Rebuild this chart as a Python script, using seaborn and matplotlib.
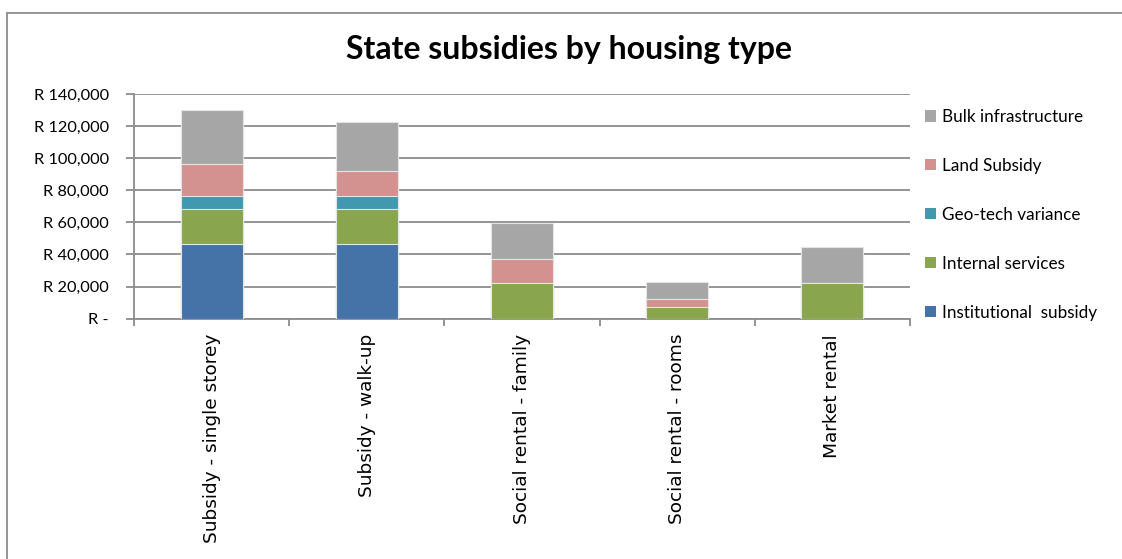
import numpy as np
import pandas as pd
import matplotlib
matplotlib.use("Agg")
import matplotlib.pyplot as plt
from matplotlib.ticker import FuncFormatter, FixedLocator
from matplotlib.patches import Patch
from matplotlib.lines import Line2D
import seaborn as sns

# Housing types and the subsidy components for each (Rand per unit)
categories = ["Subsidy - single storey", "Subsidy - walk-up", "Social rental - family",
              "Social rental - rooms", "Market rental"]
institutional = [46500, 46500, 0, 0, 0]
internal_services = [21700, 21700, 22000, 7500, 22000]
geotech = [8000, 8000, 0, 0, 0]
land = [20000, 15600, 15400, 4600, 0]
bulk = [33800, 30500, 22400, 10800, 22700]

series_names = ["Institutional  subsidy", "Internal services", "Geo-tech variance",
                "Land Subsidy", "Bulk infrastructure"]
series_values = [institutional, internal_services, geotech, land, bulk]
series_colors = ["#4572A7", "#89A54E", "#4198AF", "#D39290", "#A6A6A6"]

y_ticks = [0, 20000, 40000, 60000, 80000, 100000, 120000, 140000]

sns.set_style("white")
plt.rcParams["font.family"] = ["Lato", "DejaVu Sans"]
plt.rcParams["text.color"] = "black"

W, H = 1122, 559
fig = plt.figure(figsize=(W / 100, H / 100), dpi=100)
ax = fig.add_axes([134 / W, 1 - 318.7 / H, (910 - 134) / W, (318.7 - 94) / H])

# Stacked bars: draw cumulative totals from the top layer downwards
df = pd.DataFrame({"category": categories})
cum = np.cumsum(np.array(series_values), axis=0)
for i in range(len(series_names) - 1, -1, -1):
    df["value"] = cum[i]
    sns.barplot(data=df, x="category", y="value", order=categories, color=series_colors[i],
                width=0.4, errorbar=None, edgecolor="#E4E4E4", linewidth=0.8,
                saturation=1, ax=ax, zorder=3)

grid_col = "#8C8C8C"
ax.set_ylim(0, 140000)
ax.set_xlim(-0.5, len(categories) - 0.5)
ax.yaxis.set_major_locator(FixedLocator(y_ticks))
ax.yaxis.set_major_formatter(FuncFormatter(lambda v, p: "R -" if v == 0 else f"R {int(v):,}"))
ax.grid(axis="y", color=grid_col, linewidth=1.3, zorder=0)
ax.set_axisbelow(True)
ax.set_xlabel("")
ax.set_ylabel("")

for s in ["top", "right"]:
    ax.spines[s].set_visible(False)
for s in ["left", "bottom"]:
    ax.spines[s].set_color(grid_col)
    ax.spines[s].set_linewidth(1.3)

ax.tick_params(axis="y", which="major", length=6, width=1.3, color=grid_col, pad=12,
               labelsize=11.8, labelcolor="black", left=True)
ax.set_xticks(range(len(categories)))
ax.set_xticklabels(categories, rotation=90, va="top", ha="center")
ax.tick_params(axis="x", which="major", length=0, pad=11, labelcolor="black")
for lab in ax.get_xticklabels():
    lab.set_fontfamily("DejaVu Sans")
    lab.set_fontsize(13.3)
ax.set_xticks(np.arange(-0.5, len(categories), 1.0), minor=True)
ax.tick_params(axis="x", which="minor", length=5, width=1.3, color=grid_col, bottom=True)

fig.text(569 / W, 1 - 50 / H, "State subsidies by housing type", ha="center", va="center",
         fontsize=23, fontweight="bold", color="black")

handles = [Patch(facecolor=c, edgecolor="none") for c in series_colors[::-1]]
leg = fig.legend(handles, series_names[::-1], loc="upper left",
                 bbox_to_anchor=(925 / W, 1 - 109 / H), frameon=False, fontsize=12.3,
                 handlelength=0.62, handleheight=0.62, handletextpad=0.35,
                 labelspacing=1.93, borderpad=0, borderaxespad=0)
for t in leg.get_texts():
    t.set_color("black")

# Chart-area frame
fig.add_artist(Line2D([7 / W, 1.0], [1 - 12.5 / H, 1 - 12.5 / H], transform=fig.transFigure,
                      color=grid_col, linewidth=1.3))
fig.add_artist(Line2D([7 / W, 7 / W], [0, 1 - 12.5 / H], transform=fig.transFigure,
                      color=grid_col, linewidth=1.3))

fig.savefig("out.png", dpi=100, facecolor="white")
